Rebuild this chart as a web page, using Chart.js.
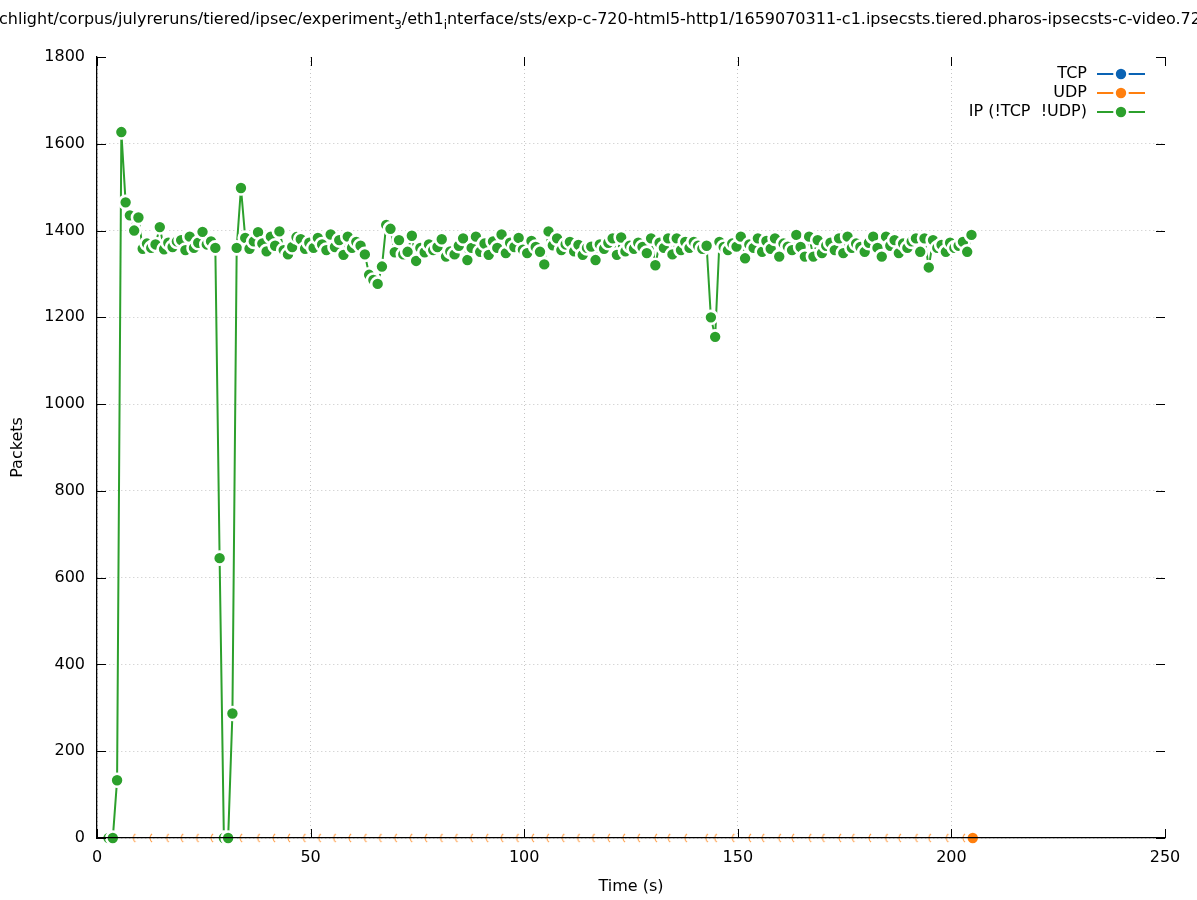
<!DOCTYPE html>
<html><head><meta charset="utf-8">
<script src="https://cdn.jsdelivr.net/npm/chart.js@4.4.1/dist/chart.umd.min.js"></script>
<style>html,body{margin:0;padding:0;background:#fff;}#wrap{width:1197px;height:900px;}</style>
</head><body><div id="wrap"><canvas id="c" width="1197" height="900"></canvas></div>
<script>
const FONT = '"DejaVu Sans", "Liberation Sans", sans-serif';
const FS = 16;
const titleParts = [
  {t: "chlight/corpus/julyreruns/tiered/ipsec/experiment"},
  {t: "3", sub: true},
  {t: "/eth1"},
  {t: "i", sub: true},
  {t: "nterface/sts/exp-c-720-html5-http1/1659070311-c1.ipsecsts.tiered.pharos-ipsecsts-c-video.720p"}
];
const xTitle = "Time (s)";
const yTitle = "Packets";
const seriesNames = ["TCP", "UDP", "IP (!TCP  !UDP)"];
const seriesColors = ["#0a63b4", "#ff7f0e", "#2ca02c"];

const tcpTimes = [];
const tcpValues = [];

const udpTimes = [8.5,12.4,16.3,19.7,23.3,26.7,30.0,33.5,37.6,41.2,44.7,48.3,51.9,55.4,59.0,62.6,66.1,69.7,73.3,76.8,80.4,83.9,87.5,91.1,94.6,98.2,101.8,105.3,108.9,112.5,116.0,119.6,123.1,126.6,130.6,133.7,137.6,142.5,144.6,148.7,152.6,155.7,159.6,162.7,166.7,169.8,173.7,176.8,180.7,184.6,187.7,191.6,194.7,198.8,202.7,205.0];
const udpValues = [0,0,0,0,0,0,0,0,0,0,0,0,0,0,0,0,0,0,0,0,0,0,0,0,0,0,0,0,0,0,0,0,0,0,0,0,0,0,0,0,0,0,0,0,0,0,0,0,0,0,0,0,0,0,0,0];

const ipTimes = [2.7,3.7,4.7,5.7,6.7,7.7,8.7,9.7,10.7,11.7,12.7,13.7,14.7,15.7,16.7,17.7,18.7,19.7,20.7,21.7,22.7,23.7,24.7,25.7,26.7,27.7,28.7,29.7,30.7,31.7,32.7,33.7,34.7,35.7,36.7,37.7,38.7,39.7,40.7,41.7,42.7,43.7,44.7,45.7,46.7,47.7,48.7,49.7,50.7,51.7,52.7,53.7,54.7,55.7,56.7,57.7,58.7,59.7,60.7,61.7,62.7,63.7,64.7,65.7,66.7,67.7,68.7,69.7,70.7,71.7,72.7,73.7,74.7,75.7,76.7,77.7,78.7,79.7,80.7,81.7,82.7,83.7,84.7,85.7,86.7,87.7,88.7,89.7,90.7,91.7,92.7,93.7,94.7,95.7,96.7,97.7,98.7,99.7,100.7,101.7,102.7,103.7,104.7,105.7,106.7,107.7,108.7,109.7,110.7,111.7,112.7,113.7,114.7,115.7,116.7,117.7,118.7,119.7,120.7,121.7,122.7,123.7,124.7,125.7,126.7,127.7,128.7,129.7,130.7,131.7,132.7,133.7,134.7,135.7,136.7,137.7,138.7,139.7,140.7,141.7,142.7,143.7,144.7,145.7,146.7,147.7,148.7,149.7,150.7,151.7,152.7,153.7,154.7,155.7,156.7,157.7,158.7,159.7,160.7,161.7,162.7,163.7,164.7,165.7,166.7,167.7,168.7,169.7,170.7,171.7,172.7,173.7,174.7,175.7,176.7,177.7,178.7,179.7,180.7,181.7,182.7,183.7,184.7,185.7,186.7,187.7,188.7,189.7,190.7,191.7,192.7,193.7,194.7,195.7,196.7,197.7,198.7,199.7,200.7,201.7,202.7,203.7,204.7];
const ipValues = [0,
  0,133,1627,1465,1435,1400,1430,1358,1370,1360,
  1368,1408,1357,1372,1362,1375,1378,1355,1386,1360,
  1372,1397,1368,1375,1360,645,0,0,287,1360,
  1498,1383,1358,1375,1396,1370,1352,1386,1365,1398,
  1355,1345,1362,1385,1380,1358,1372,1360,1383,1368,
  1355,1391,1362,1378,1344,1386,1360,1374,1365,1345,
  1298,1286,1277,1317,1413,1404,1350,1378,1345,1351,
  1388,1330,1360,1350,1368,1355,1362,1380,1340,1352,
  1345,1365,1382,1332,1360,1386,1351,1370,1344,1375,
  1360,1391,1348,1372,1362,1383,1356,1348,1376,1362,
  1351,1322,1398,1366,1382,1355,1368,1374,1352,1367,
  1344,1360,1363,1332,1368,1358,1372,1382,1344,1384,
  1352,1365,1358,1372,1362,1348,1382,1320,1372,1360,
  1382,1345,1382,1355,1374,1360,1374,1365,1358,1365,
  1200,1155,1374,1362,1355,1370,1363,1386,1336,1368,
  1360,1382,1351,1376,1358,1382,1340,1370,1363,1355,
  1390,1362,1340,1386,1340,1378,1348,1365,1372,1355,
  1382,1348,1386,1360,1370,1362,1351,1372,1386,1360,
  1340,1386,1365,1378,1348,1370,1360,1375,1382,1351,
  1382,1315,1378,1360,1367,1351,1372,1360,1365,1374,
  1351,1390];

const xMin = 0, xMax = 250, xStep = 50;
const yMin = 0, yMax = 1800, yStep = 200;

function pts(ts, vs){ return ts.map((t,i)=>({x:t, y:vs[i]})); }

const PR = 6.5, PBW = 2.6;

// crescent marker for partially hidden UDP points
const cres = document.createElement('canvas');
cres.width = 14; cres.height = 14;
(function(){ const c = cres.getContext('2d'); c.strokeStyle = 'rgba(255,127,14,0.75)'; c.lineWidth = 1.1;
  c.beginPath(); c.arc(12, 7, 5, Math.PI*0.7, Math.PI*1.3); c.stroke(); })();

const gp = {
  id: 'gp',
  afterDraw(chart){
    const ctx = chart.ctx, a = chart.chartArea, xs = chart.scales.x, ys = chart.scales.y;
    ctx.save();
    ctx.strokeStyle = '#000'; ctx.lineWidth = 1;
    ctx.beginPath();
    ys.ticks.forEach(t => { const y = Math.round(ys.getPixelForValue(t.value)) + 0.5;
      ctx.moveTo(a.left, y); ctx.lineTo(a.left + 9, y);
      ctx.moveTo(a.right, y); ctx.lineTo(a.right - 9, y); });
    xs.ticks.forEach(t => { const x = Math.round(xs.getPixelForValue(t.value)) + 0.5;
      ctx.moveTo(x, a.bottom); ctx.lineTo(x, a.bottom - 9);
      ctx.moveTo(x, a.top); ctx.lineTo(x, a.top + 9); });
    ctx.stroke();
    // legend
    ctx.font = FS + 'px ' + FONT;
    ctx.textAlign = 'right'; ctx.textBaseline = 'middle';
    seriesNames.forEach((n, i) => {
      const y = 74 + i * 19;
      ctx.fillStyle = '#000';
      ctx.fillText(n, 1087, y);
      ctx.strokeStyle = seriesColors[i]; ctx.lineWidth = 2;
      ctx.beginPath(); ctx.moveTo(1097, y); ctx.lineTo(1145, y); ctx.stroke();
      ctx.beginPath(); ctx.arc(1121, y, PR, 0, Math.PI*2);
      ctx.fillStyle = seriesColors[i]; ctx.fill();
      ctx.strokeStyle = '#fff'; ctx.lineWidth = PBW; ctx.stroke();
    });
    // title with subscripts
    ctx.fillStyle = '#000'; ctx.textAlign = 'left'; ctx.textBaseline = 'alphabetic';
    let x = -1; const base = 24;
    titleParts.forEach(p => {
      ctx.font = (p.sub ? '12px ' : FS + 'px ') + FONT;
      ctx.fillText(p.t, x, p.sub ? base + 5 : base);
      x += ctx.measureText(p.t).width;
    });
    ctx.restore();
  }
};

new Chart(document.getElementById('c'), {
  type: 'line',
  data: {
    datasets: [
      { label: seriesNames[2], data: pts(ipTimes, ipValues), order: 1,
        borderColor: seriesColors[2], backgroundColor: seriesColors[2], borderWidth: 2,
        pointRadius: PR, pointBackgroundColor: seriesColors[2], pointBorderColor: '#fff',
        pointBorderWidth: PBW, tension: 0, clip: false },
      { label: seriesNames[1], data: pts(udpTimes, udpValues), order: 2, showLine: false,
        borderColor: seriesColors[1], backgroundColor: seriesColors[1], borderWidth: 2,
        pointRadius: PR, pointBackgroundColor: seriesColors[1], pointBorderColor: '#fff',
        pointBorderWidth: PBW, clip: false,
        pointStyle: c => c.dataIndex === udpTimes.length - 1 ? 'circle' : cres },
      { label: seriesNames[0], data: pts(tcpTimes, tcpValues), order: 3,
        borderColor: seriesColors[0], backgroundColor: seriesColors[0], borderWidth: 2,
        pointRadius: PR, pointBorderColor: '#fff', pointBorderWidth: PBW, clip: false }
    ]
  },
  options: {
    responsive: false, animation: false, devicePixelRatio: 1,
    layout: { padding: { left: 0, right: 32, top: 57, bottom: 0 } },
    plugins: { legend: { display: false }, tooltip: { enabled: false }, title: { display: false } },
    scales: {
      x: { type: 'linear', min: xMin, max: xMax,
        afterFit: s => { s.height = 62; },
        ticks: { stepSize: xStep, padding: 10, color: '#000', font: { family: FONT, size: FS }, maxRotation: 0,
          callback: v => String(v) },
        grid: { drawTicks: false, color: c => (c.tick && c.tick.value === xMax) ? 'rgba(0,0,0,0)' : 'rgba(150,150,150,0.55)', lineWidth: 1 },
        border: { display: true, color: '#000', width: 1.3, dash: [1, 3], z: 1 },
        title: { display: true, text: xTitle, color: '#000', font: { family: FONT, size: FS }, padding: { top: 0, bottom: 4 } } },
      y: { type: 'linear', min: yMin, max: yMax,
        afterFit: s => { s.width = 97; },
        ticks: { stepSize: yStep, padding: 12, color: '#000', font: { family: FONT, size: FS },
          callback: v => String(v) },
        grid: { drawTicks: false, color: c => (c.tick && c.tick.value === yMax) ? 'rgba(0,0,0,0)' : 'rgba(150,150,150,0.55)', lineWidth: 1 },
        border: { display: true, color: '#000', width: 1.3, dash: [1, 3], z: 1 },
        title: { display: true, text: yTitle, color: '#000', font: { family: FONT, size: FS }, padding: { top: 8, bottom: 0 } } }
    }
  },
  plugins: [gp]
});
</script></body></html>
